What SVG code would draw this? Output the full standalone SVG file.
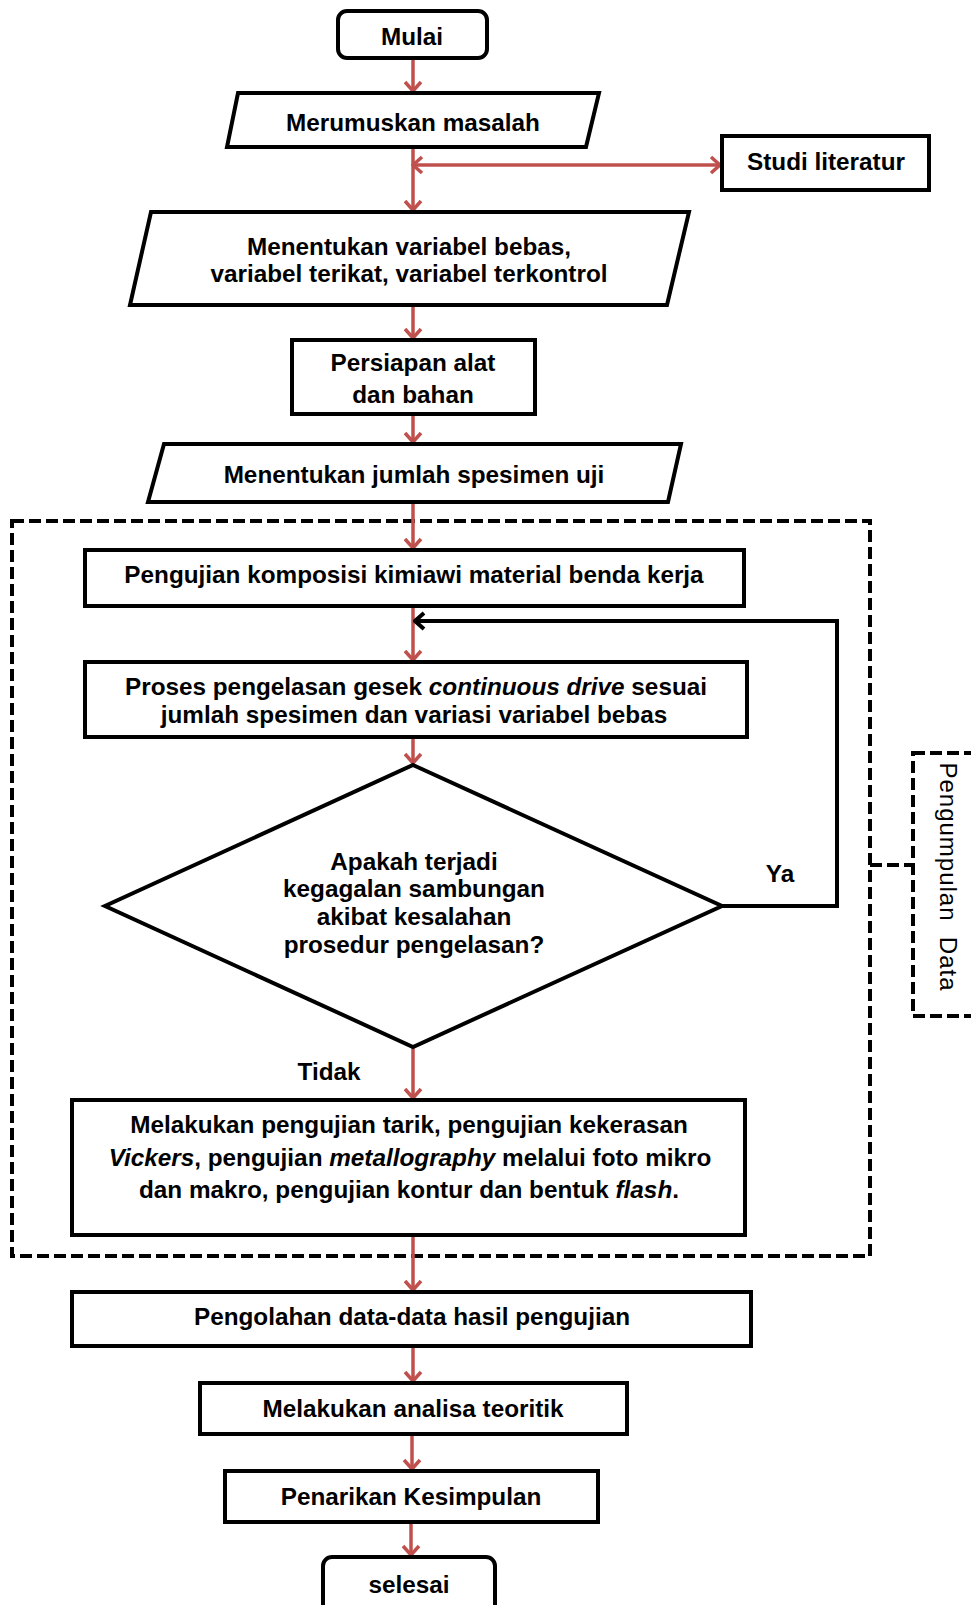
<svg xmlns="http://www.w3.org/2000/svg" width="971" height="1605" viewBox="0 0 971 1605">
<style>
.box{fill:#fff;stroke:#000;stroke-width:4}
.t{font-family:"Liberation Sans",Arial,sans-serif;font-weight:bold;font-size:24.3px;fill:#000;text-anchor:middle}
.it{font-style:italic}
.ar{fill:none;stroke:#C0504D;stroke-width:3.5}
.dash{fill:none;stroke:#000;stroke-width:4;stroke-dasharray:12 5}
</style>
<defs>
<marker id="ra" viewBox="-12 -10 14 20" refX="0" refY="0" markerWidth="14" markerHeight="20" markerUnits="userSpaceOnUse" orient="auto-start-reverse">
<path d="M-9,-8 L0,0 L-9,8" fill="none" stroke="#C0504D" stroke-width="3.5"/>
</marker>
<marker id="ba" viewBox="-12 -10 14 20" refX="0" refY="0" markerWidth="14" markerHeight="20" markerUnits="userSpaceOnUse" orient="auto">
<path d="M-9,-8 L0,0 L-9,8" fill="none" stroke="#000" stroke-width="4"/>
</marker>
</defs>
<rect width="971" height="1605" fill="#fff"/>
<g id="group-pengumpulan">
<rect class="dash" x="12" y="521" width="858" height="735"/>
<rect class="dash" x="913" y="753" width="70" height="263"/>
<line class="dash" x1="870" y1="865" x2="913" y2="865"/>
<text x="0" y="0" transform="translate(940,877) rotate(90)" font-family="'Liberation Sans',Arial,sans-serif" font-size="24" letter-spacing="1" text-anchor="middle" xml:space="preserve">Pengumpulan  Data</text>
</g>
<g id="connectors">
<line class="ar" x1="413" y1="58" x2="413" y2="91" marker-end="url(#ra)"/>
<line class="ar" x1="413" y1="147" x2="413" y2="210" marker-end="url(#ra)"/>
<line class="ar" x1="413" y1="165" x2="720" y2="165" marker-start="url(#ra)" marker-end="url(#ra)"/>
<line class="ar" x1="413" y1="305" x2="413" y2="338" marker-end="url(#ra)"/>
<line class="ar" x1="413" y1="414" x2="413" y2="442" marker-end="url(#ra)"/>
<line class="ar" x1="413" y1="502" x2="413" y2="548" marker-end="url(#ra)"/>
<line class="ar" x1="413" y1="607" x2="413" y2="660" marker-end="url(#ra)"/>
<line class="ar" x1="413" y1="737" x2="413" y2="763" marker-end="url(#ra)"/>
<line class="ar" x1="413" y1="1047" x2="413" y2="1098" marker-end="url(#ra)"/>
<line class="ar" x1="413" y1="1235" x2="413" y2="1290" marker-end="url(#ra)"/>
<line class="ar" x1="413" y1="1346" x2="413" y2="1381" marker-end="url(#ra)"/>
<line class="ar" x1="412" y1="1434" x2="412" y2="1469" marker-end="url(#ra)"/>
<line class="ar" x1="411" y1="1522" x2="411" y2="1555" marker-end="url(#ra)"/>
<polyline points="722,906 837,906 837,621 415,621" fill="none" stroke="#000" stroke-width="4" marker-end="url(#ba)"/>
<text class="t" x="780" y="882">Ya</text>
<text class="t" x="329" y="1080">Tidak</text>
</g>
<g id="mulai">
<rect class="box" x="338" y="11" width="149" height="47" rx="9"/>
<text class="t" x="412" y="45">Mulai</text>
</g>
<g id="merumuskan">
<polygon class="box" points="238,93 599,93 586,147 227,147"/>
<text class="t" x="413" y="131">Merumuskan masalah</text>
</g>
<g id="studi">
<rect class="box" x="722" y="136" width="207" height="54"/>
<text class="t" x="826" y="170">Studi literatur</text>
</g>
<g id="variabel">
<polygon class="box" points="151,212 689,212 667,305 130,305"/>
<text class="t" x="409" y="255">Menentukan variabel bebas,</text>
<text class="t" x="409" y="282">variabel terikat, variabel terkontrol</text>
</g>
<g id="persiapan">
<rect class="box" x="292" y="340" width="243" height="74"/>
<text class="t" x="413" y="371">Persiapan alat</text>
<text class="t" x="413" y="403">dan bahan</text>
</g>
<g id="jumlah">
<polygon class="box" points="164,444 681,444 668,502 148,502"/>
<text class="t" x="414" y="483">Menentukan jumlah spesimen uji</text>
</g>
<g id="komposisi">
<rect class="box" x="85" y="550" width="659" height="56"/>
<text class="t" x="414" y="583">Pengujian komposisi kimiawi material benda kerja</text>
</g>
<g id="proses">
<rect class="box" x="85" y="662" width="662" height="75"/>
<text class="t" x="416" y="695">Proses pengelasan gesek <tspan class="it">continuous drive</tspan> sesuai</text>
<text class="t" x="414" y="723">jumlah spesimen dan variasi variabel bebas</text>
</g>
<g id="keputusan">
<polygon class="box" points="413,765 722,906 413,1047 105,906"/>
<text class="t" x="414" y="870">Apakah terjadi</text>
<text class="t" x="414" y="897">kegagalan sambungan</text>
<text class="t" x="414" y="925">akibat kesalahan</text>
<text class="t" x="414" y="953">prosedur pengelasan?</text>
</g>
<g id="pengujian">
<rect class="box" x="72" y="1100" width="673" height="135"/>
<text class="t" x="409" y="1133">Melakukan pengujian tarik, pengujian kekerasan</text>
<text class="t" x="410" y="1166"><tspan class="it">Vickers</tspan>, pengujian <tspan class="it">metallography</tspan> melalui foto mikro</text>
<text class="t" x="409" y="1198">dan makro, pengujian kontur dan bentuk <tspan class="it">flash</tspan>.</text>
</g>
<g id="pengolahan">
<rect class="box" x="72" y="1292" width="679" height="54"/>
<text class="t" x="412" y="1325">Pengolahan data-data hasil pengujian</text>
</g>
<g id="analisa">
<rect class="box" x="200" y="1383" width="427" height="51"/>
<text class="t" x="413" y="1417">Melakukan analisa teoritik</text>
</g>
<g id="kesimpulan">
<rect class="box" x="225" y="1471" width="373" height="51"/>
<text class="t" x="411" y="1505">Penarikan Kesimpulan</text>
</g>
<g id="selesai">
<rect class="box" x="323" y="1557" width="172" height="60" rx="9"/>
<text class="t" x="409" y="1593">selesai</text>
</g>
</svg>
